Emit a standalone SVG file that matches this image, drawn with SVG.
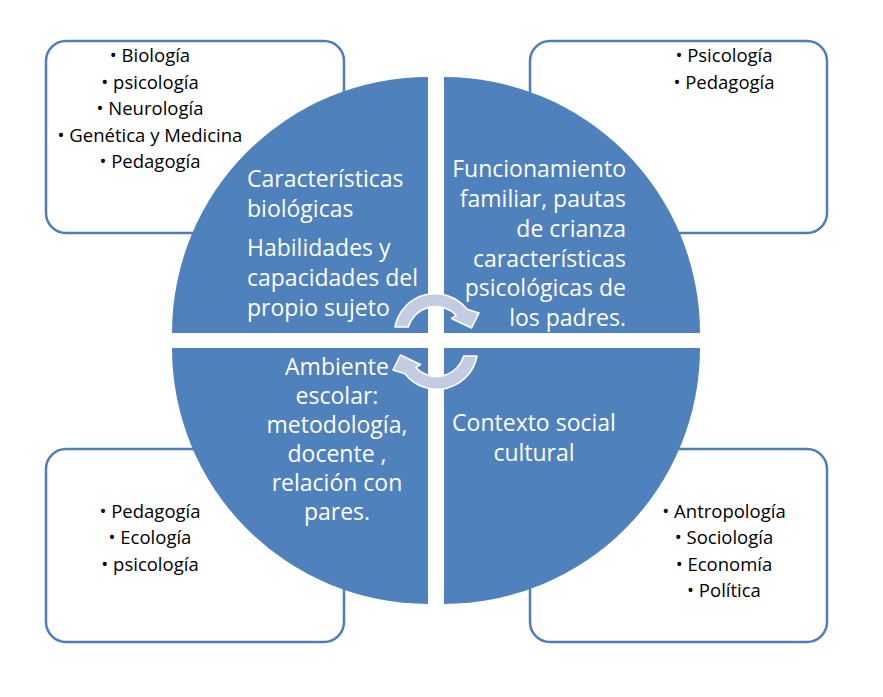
<svg xmlns="http://www.w3.org/2000/svg" width="883" height="697" viewBox="0 0 883 697">
<style>
.box{fill:#ffffff;stroke:#4f7db8;stroke-width:2.5}
.q{fill:#4f81bd}
.bt{font-family:"Open Sans","Noto Sans","Liberation Sans",sans-serif;font-size:18.5px;fill:#000000;text-anchor:middle}
.wt{font-family:"Open Sans","Noto Sans","Liberation Sans",sans-serif;font-size:23px;fill:#ffffff}
.arr{fill:#c3cce2;stroke:#ffffff;stroke-width:1.6;stroke-linejoin:round}
</style>
<rect width="883" height="697" fill="#ffffff"/>
<g id="box-tl">
<rect class="box" x="46" y="41" width="298" height="192" rx="20"/>
<text class="bt" x="150" y="62">• Biología</text>
<text class="bt" x="150" y="88.5">• psicología</text>
<text class="bt" x="150" y="115">• Neurología</text>
<text class="bt" x="150" y="141.5">• Genética y Medicina</text>
<text class="bt" x="150" y="168">• Pedagogía</text>
</g>
<g id="box-tr">
<rect class="box" x="530" y="41" width="297" height="192" rx="20"/>
<text class="bt" x="724" y="62">• Psicología</text>
<text class="bt" x="724" y="88.5">• Pedagogía</text>
</g>
<g id="box-bl">
<rect class="box" x="46" y="449" width="298" height="193" rx="20"/>
<text class="bt" x="150" y="517.5">• Pedagogía</text>
<text class="bt" x="150" y="544">• Ecología</text>
<text class="bt" x="150" y="570.5">• psicología</text>
</g>
<g id="box-br">
<rect class="box" x="530" y="449" width="297" height="193" rx="20"/>
<text class="bt" x="724" y="517.5">• Antropología</text>
<text class="bt" x="724" y="544">• Sociología</text>
<text class="bt" x="724" y="570.5">• Economía</text>
<text class="bt" x="724" y="597">• Política</text>
</g>
<g id="quad-tl">
<path class="q" d="M428,333 L172,333 A256,256 0 0 1 428,77 Z"/>
<text class="wt" x="247" y="187">Características</text>
<text class="wt" x="247" y="217">biológicas</text>
<text class="wt" x="247" y="256">Habilidades y</text>
<text class="wt" x="247" y="286">capacidades del</text>
<text class="wt" x="247" y="316">propio sujeto</text>
</g>
<g id="quad-tr">
<path class="q" d="M444,333 L444,77 A256,256 0 0 1 700,333 Z"/>
<text class="wt" text-anchor="end" x="626" y="177">Funcionamiento</text>
<text class="wt" text-anchor="end" x="626" y="207">familiar, pautas</text>
<text class="wt" text-anchor="end" x="626" y="237">de crianza</text>
<text class="wt" text-anchor="end" x="626" y="267">características</text>
<text class="wt" text-anchor="end" x="626" y="296">psicológicas de</text>
<text class="wt" text-anchor="end" x="626" y="326">los padres.</text>
</g>
<g id="quad-br">
<path class="q" d="M444,348 L700,348 A256,256 0 0 1 444,604 Z"/>
<text class="wt" text-anchor="middle" x="534" y="431">Contexto social</text>
<text class="wt" text-anchor="middle" x="534" y="461">cultural</text>
</g>
<g id="quad-bl">
<path class="q" d="M428,348 L428,604 A256,256 0 0 1 172,348 Z"/>
<text class="wt" text-anchor="middle" x="337" y="375">Ambiente</text>
<text class="wt" text-anchor="middle" x="337" y="404">escolar:</text>
<text class="wt" text-anchor="middle" x="337" y="433">metodología,</text>
<text class="wt" text-anchor="middle" x="337" y="462">docente ,</text>
<text class="wt" text-anchor="middle" x="337" y="491">relación con</text>
<text class="wt" text-anchor="middle" x="337" y="520">pares.</text>
</g>
<g id="connectors">
<path id="arrow-top" class="arr" d="M395,327 A40.7,40.7 0 0 1 467.1,309.3 L479,313 L471.5,328 L451.5,318.5 L456.2,315.3 A28.5,28.5 0 0 0 408.3,327 Z"/>
<path id="arrow-bottom" class="arr" transform="rotate(180 436 341.5)" d="M395,327 A40.7,40.7 0 0 1 467.1,309.3 L479,313 L471.5,328 L451.5,318.5 L456.2,315.3 A28.5,28.5 0 0 0 408.3,327 Z"/>
</g>
</svg>
